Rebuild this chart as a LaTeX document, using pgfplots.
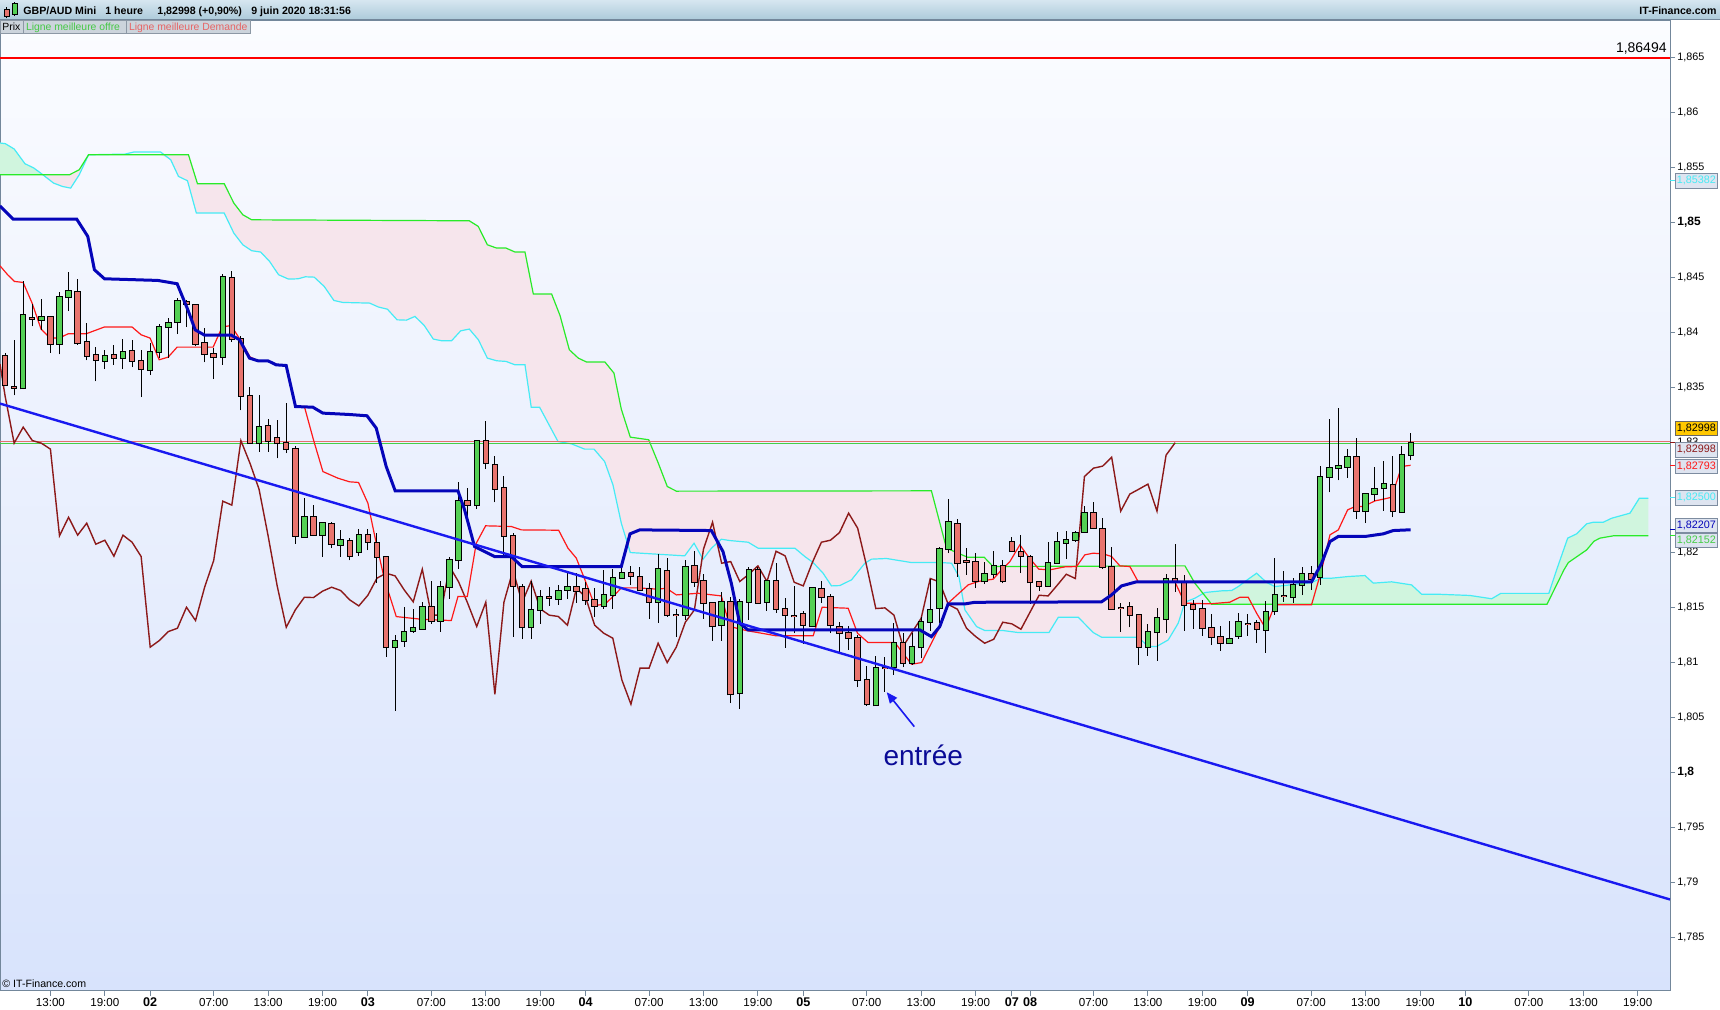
\documentclass[border=0pt]{standalone}
\usepackage{fontspec}
\setmainfont{Liberation Sans}
\usepackage{pgfplots}
\usepackage{pgfplotstable}
\pgfplotsset{compat=1.18}
\usetikzlibrary{arrows.meta}

\definecolor{upc}{RGB}{84,208,84}
\definecolor{dnc}{RGB}{232,116,110}
\definecolor{kij}{RGB}{5,5,185}
\definecolor{trd}{RGB}{25,25,240}
\definecolor{tnk}{RGB}{255,25,25}
\definecolor{chk}{RGB}{140,25,25}
\definecolor{sgr}{RGB}{40,235,40}
\definecolor{scy}{RGB}{70,235,245}
\definecolor{pinkf}{RGB}{246,229,236}
\definecolor{grnf}{RGB}{208,245,222}
\definecolor{bidc}{RGB}{230,110,110}
\definecolor{askc}{RGB}{70,205,70}
\definecolor{bgtop}{RGB}{251,252,255}
\definecolor{bgbot}{RGB}{216,227,252}
\definecolor{axc}{RGB}{115,135,155}
\definecolor{hdt}{RGB}{214,230,240}
\definecolor{hdb}{RGB}{172,202,218}
\definecolor{tabf}{RGB}{204,212,220}
\definecolor{tabb}{RGB}{140,152,165}
\definecolor{ltg}{RGB}{70,200,70}
\definecolor{ltr}{RGB}{230,100,100}
\definecolor{entc}{RGB}{10,10,150}
\definecolor{boxf}{RGB}{222,228,240}
\definecolor{boxb}{RGB}{125,140,160}
\definecolor{gold}{RGB}{255,200,0}

\newcommand\fs[1]{\fontsize{#1}{#1}\selectfont}

\pgfplotsset{
  candle/.style={draw=none, mark=none, forget plot,
    error bars/.cd, y dir=plus, y explicit, error mark=none},
}
\tikzset{tag/.style={anchor=west, draw=boxb, fill=boxf, font=\fs{5.4}, inner sep=0pt,
  minimum width=21pt, minimum height=7.2pt, line width=0.4pt}}

% hourly GBP/AUD candles: index, open, high, low, close, up(1)/down(0)
\pgfplotstableread{
i o h l c d
8 1.83782 1.83812 1.83515 1.83521 0
9 1.83500 1.83934 1.83428 1.83500 0
10 1.83491 1.84464 1.83485 1.84158 1
11 1.84125 1.84261 1.84055 1.84125 0
12 1.84112 1.84306 1.84024 1.84140 1
13 1.84140 1.84140 1.83818 1.83894 0
14 1.83894 1.84370 1.83800 1.84321 1
15 1.84321 1.84552 1.84194 1.84376 1
16 1.84367 1.84485 1.83888 1.83903 0
17 1.83912 1.84085 1.83746 1.83785 0
18 1.83794 1.83867 1.83555 1.83749 0
19 1.83743 1.83837 1.83667 1.83785 1
20 1.83794 1.83885 1.83709 1.83767 0
21 1.83767 1.83943 1.83667 1.83822 1
22 1.83831 1.83934 1.83685 1.83740 0
23 1.83740 1.83837 1.83412 1.83667 0
24 1.83658 1.83903 1.83612 1.83822 1
25 1.83822 1.84079 1.83767 1.84049 1
26 1.84049 1.84134 1.83770 1.84085 1
27 1.84094 1.84312 1.83985 1.84285 1
28 1.84279 1.84291 1.84049 1.84261 0
29 1.84249 1.84261 1.83873 1.83894 0
30 1.83903 1.84040 1.83728 1.83803 0
31 1.83803 1.83858 1.83576 1.83776 0
32 1.83776 1.84534 1.83709 1.84503 1
33 1.84494 1.84561 1.83918 1.83940 0
34 1.83940 1.83970 1.83291 1.83424 0
35 1.83424 1.83509 1.82994 1.82994 0
36 1.82994 1.83434 1.82918 1.83140 1
37 1.83146 1.83215 1.82918 1.83018 0
38 1.83040 1.83206 1.82855 1.82994 0
39 1.82994 1.83358 1.82903 1.82940 0
40 1.82940 1.82964 1.82079 1.82152 0
41 1.82140 1.82497 1.82140 1.82321 1
42 1.82321 1.82431 1.82158 1.82158 0
43 1.82158 1.82267 1.81964 1.82267 1
44 1.82258 1.82279 1.82040 1.82076 0
45 1.82067 1.82206 1.81964 1.82112 1
46 1.82103 1.82131 1.81928 1.81967 0
47 1.82006 1.82212 1.81967 1.82158 1
48 1.82158 1.82212 1.82021 1.82094 0
49 1.82085 1.82182 1.81724 1.81964 0
50 1.81958 1.81964 1.81055 1.81140 0
51 1.81140 1.81252 1.80564 1.81200 1
52 1.81200 1.81503 1.81146 1.81282 1
53 1.81291 1.81485 1.81273 1.81312 1
54 1.81309 1.81552 1.81297 1.81503 1
55 1.81503 1.81746 1.81352 1.81382 0
56 1.81382 1.81746 1.81282 1.81685 1
57 1.81685 1.81964 1.81582 1.81928 1
58 1.81928 1.82643 1.81855 1.82467 1
59 1.82467 1.82588 1.82334 1.82431 0
60 1.82431 1.83018 1.82394 1.83018 1
61 1.83018 1.83194 1.82758 1.82812 0
62 1.82800 1.82879 1.82455 1.82576 0
63 1.82585 1.82697 1.81970 1.82152 0
64 1.82152 1.82182 1.81237 1.81697 0
65 1.81685 1.81715 1.81218 1.81321 0
66 1.81321 1.81746 1.81218 1.81479 1
67 1.81479 1.81661 1.81352 1.81594 1
68 1.81591 1.81685 1.81515 1.81591 0
69 1.81576 1.81706 1.81524 1.81649 1
70 1.81661 1.81812 1.81582 1.81685 1
71 1.81685 1.81812 1.81546 1.81655 0
72 1.81667 1.81734 1.81524 1.81570 0
73 1.81570 1.81676 1.81418 1.81515 0
74 1.81515 1.81843 1.81491 1.81612 1
75 1.81612 1.81849 1.81491 1.81767 1
76 1.81767 1.81888 1.81758 1.81812 1
77 1.81812 1.81879 1.81703 1.81788 0
78 1.81776 1.81873 1.81649 1.81661 0
79 1.81667 1.81722 1.81394 1.81552 0
80 1.81552 1.81988 1.81364 1.81849 1
81 1.81834 1.81949 1.81418 1.81431 0
82 1.81431 1.81485 1.81237 1.81431 0
83 1.81431 1.81934 1.81388 1.81873 1
84 1.81882 1.82010 1.81691 1.81734 0
85 1.81740 1.81806 1.81400 1.81540 0
86 1.81540 1.81555 1.81200 1.81328 0
87 1.81340 1.81637 1.81200 1.81549 1
88 1.81549 1.81594 1.80631 1.80712 0
89 1.80721 1.81579 1.80576 1.81549 1
90 1.81555 1.81873 1.81388 1.81840 1
91 1.81840 1.81873 1.81534 1.81546 0
92 1.81549 1.81752 1.81473 1.81740 1
93 1.81740 1.81903 1.81455 1.81488 0
94 1.81485 1.81585 1.81137 1.81431 0
95 1.81419 1.81697 1.81267 1.81419 0
96 1.81440 1.81470 1.81170 1.81340 0
97 1.81328 1.81685 1.81322 1.81676 1
98 1.81667 1.81740 1.81540 1.81594 0
99 1.81594 1.81625 1.81267 1.81340 0
100 1.81322 1.81370 1.81085 1.81267 0
101 1.81267 1.81334 1.81115 1.81222 0
102 1.81222 1.81252 1.80776 1.80843 0
103 1.80843 1.80970 1.80606 1.80622 0
104 1.80612 1.81061 1.80612 1.80949 1
105 1.80949 1.81049 1.80737 1.80949 0
106 1.80958 1.81358 1.80888 1.81176 1
107 1.81176 1.81267 1.80958 1.81000 0
108 1.81000 1.81267 1.80979 1.81140 1
109 1.81140 1.81412 1.81040 1.81367 1
110 1.81373 1.81758 1.81291 1.81479 1
111 1.81494 1.82055 1.81358 1.82031 1
112 1.82031 1.82491 1.81994 1.82276 1
113 1.82258 1.82309 1.81782 1.81903 0
114 1.81918 1.82040 1.81797 1.81918 0
115 1.81918 1.81994 1.81676 1.81737 0
116 1.81737 1.81918 1.81712 1.81803 1
117 1.81803 1.82015 1.81767 1.81879 1
118 1.81882 1.81934 1.81721 1.81737 0
119 1.82094 1.82140 1.82012 1.82012 0
120 1.82009 1.82158 1.81812 1.81970 0
121 1.81964 1.81979 1.81534 1.81730 0
122 1.81730 1.81730 1.81655 1.81697 0
123 1.81697 1.82097 1.81697 1.81909 1
124 1.81909 1.82188 1.81903 1.82094 1
125 1.82085 1.82197 1.81940 1.82112 1
126 1.82115 1.82194 1.82094 1.82182 1
127 1.82185 1.82425 1.82176 1.82358 1
128 1.82358 1.82461 1.82212 1.82221 0
129 1.82212 1.82315 1.81849 1.81873 0
130 1.81867 1.82055 1.81491 1.81491 0
131 1.81497 1.81540 1.81282 1.81497 0
132 1.81503 1.81552 1.81321 1.81431 0
133 1.81431 1.81431 1.80982 1.81146 0
134 1.81146 1.81352 1.81061 1.81276 1
135 1.81276 1.81494 1.81018 1.81403 1
136 1.81394 1.81806 1.81267 1.81764 1
137 1.81758 1.82079 1.81646 1.81734 0
138 1.81734 1.81797 1.81291 1.81527 0
139 1.81527 1.81570 1.81309 1.81485 0
140 1.81485 1.81570 1.81243 1.81312 0
141 1.81312 1.81443 1.81158 1.81237 0
142 1.81237 1.81333 1.81109 1.81176 0
143 1.81176 1.81382 1.81176 1.81212 1
144 1.81246 1.81449 1.81218 1.81367 1
145 1.81352 1.81440 1.81246 1.81352 0
146 1.81364 1.81388 1.81176 1.81303 0
147 1.81297 1.81564 1.81091 1.81458 1
148 1.81467 1.81949 1.81434 1.81612 1
149 1.81606 1.81834 1.81555 1.81606 0
150 1.81594 1.81770 1.81546 1.81703 1
151 1.81703 1.81873 1.81612 1.81803 1
152 1.81806 1.81879 1.81661 1.81764 0
153 1.81776 1.82788 1.81706 1.82691 1
154 1.82691 1.83212 1.82546 1.82767 1
155 1.82767 1.83312 1.82655 1.82785 1
156 1.82782 1.82940 1.82682 1.82867 1
157 1.82867 1.83040 1.82309 1.82376 0
158 1.82376 1.82531 1.82267 1.82531 1
159 1.82531 1.82776 1.82473 1.82576 1
160 1.82585 1.82834 1.82382 1.82622 1
161 1.82612 1.82879 1.82321 1.82376 0
162 1.82367 1.82970 1.82367 1.82885 1
163 1.82885 1.83091 1.82837 1.82998 1
}\candles

\begin{document}
\begin{tikzpicture}
\fill[white] (0,0) rectangle (860pt,505pt);
\path[use as bounding box] (0,0) rectangle (860pt,505pt);
\shade[top color=bgtop, bottom color=bgbot] (0pt,9.65pt) rectangle (835pt,494.65pt);
\begin{axis}[
  at={(0pt,9.65pt)}, anchor=south west,
  scale only axis, width=835pt, height=485pt,
  xmin=7.44, xmax=191.56, ymin=1.780182, ymax=1.868336,
  axis line style={draw=axc, line width=0.5pt},
  xtick pos=left, ytick pos=right, yticklabel pos=right,
  tick align=outside, major tick length=2.5pt,
  tick style={draw=axc, line width=0.5pt},
  scaled y ticks=false,
  xtick={13,19,24,31,37,43,48,55,61,67,72,79,85,91,96,103,109,115,119,121,128,134,140,145,152,158,164,169,176,182,188},
  xticklabels={13:00,19:00,{\fs{6.3}\bfseries 02},07:00,13:00,19:00,{\fs{6.3}\bfseries 03},07:00,13:00,19:00,{\fs{6.3}\bfseries 04},07:00,13:00,19:00,{\fs{6.3}\bfseries 05},07:00,13:00,19:00,{\fs{6.3}\bfseries 07},{\fs{6.3}\bfseries 08},07:00,13:00,19:00,{\fs{6.3}\bfseries 09},07:00,13:00,19:00,{\fs{6.3}\bfseries 10},07:00,13:00,19:00},
  xticklabel style={font=\fs{5.8}, inner ysep=1pt},
  ytick={1.785,1.79,1.795,1.8,1.805,1.81,1.815,1.82,1.825,1.83,1.835,1.84,1.845,1.85,1.855,1.86,1.865},
  yticklabels={{1,785},{1,79},{1,795},{\fs{6}\bfseries 1,8},{1,805},{1,81},{1,815},{1,82},{},{1,83},{1,835},{1,84},{1,845},{\fs{6}\bfseries 1,85},{1,855},{1,86},{1,865}},
  yticklabel style={font=\fs{5.4}, inner xsep=1pt},
]

% cloud areas (green span above cyan span: pink; cyan above green: light green)
\addplot[fill=pinkf, draw=none, forget plot] coordinates {
(12.2,1.85434)(15.11,1.85434)(16.18,1.85479)(17.20,1.85615)(28.22,1.85615)(29.21,1.85352)(32.16,1.85352)(33.22,1.85176)(34.21,1.85070)(35.19,1.85024)(59.18,1.85015)(60.17,1.84964)(61.17,1.84797)(62.20,1.84767)(63.23,1.84767)(64.22,1.84731)(65.32,1.84731)(66.24,1.84349)(68.26,1.84349)(69.18,1.84155)(70.21,1.83843)(71.20,1.83767)(72.12,1.83731)(74.14,1.83731)(75.13,1.83631)(75.94,1.83303)(76.93,1.83049)(78.96,1.83025)(79.99,1.82818)(81.01,1.82600)(82.01,1.82558)(110.13,1.82561)(111.79,1.82040)(114.10,1.81958)(115.94,1.81958)(116.93,1.81873)(138.08,1.81879)(139.18,1.81721)(140,1.81630)
(139.18,1.81585)(138.08,1.81549)(137.34,1.81358)(136.24,1.81206)(134.95,1.81146)(134.03,1.81146)(132.93,1.81231)(128.88,1.81231)(127.97,1.81273)(126.32,1.81412)(124.12,1.81412)(123.09,1.81273)(119.71,1.81273)(118.05,1.81291)(116.03,1.81291)(115.11,1.81327)(113.82,1.81479)(113.16,1.81782)(112.35,1.81903)(111.25,1.81909)(107.94,1.81909)(105.18,1.81946)(103.53,1.81940)(102.79,1.81903)(101.32,1.81752)(100.03,1.81700)(99.11,1.81697)(98.19,1.81812)(97.09,1.81909)(96.17,1.81964)(95.07,1.82040)(91.02,1.82040)(89.92,1.82094)(87.90,1.82109)(86.97,1.82121)(85.87,1.82039)(84.95,1.81939)(83.96,1.82085)(82.93,1.81970)(76.93,1.82000)(75.94,1.82267)(75.02,1.82615)(74.10,1.82827)(72.93,1.82940)(71.90,1.82940)(70.43,1.82988)(68.96,1.83009)(66.93,1.83321)(66.01,1.83321)(65.32,1.83706)(64.22,1.83706)(63.23,1.83737)(62.20,1.83743)(61.17,1.83767)(60.18,1.83934)(59.18,1.84031)(58.23,1.84015)(57.23,1.83925)(56.13,1.83925)(55.21,1.83940)(54.21,1.84064)(53.19,1.84146)(52.24,1.84112)(51.22,1.84115)(50.15,1.84212)(49.17,1.84231)(48.19,1.84267)(45.23,1.84273)(44.25,1.84291)(43.19,1.84418)(42.08,1.84503)(41.10,1.84506)(40.31,1.84488)(39.25,1.84485)(38.15,1.84525)(37.16,1.84646)(36.18,1.84731)(35.19,1.84743)(34.21,1.84797)(33.22,1.84903)(32.16,1.85085)(29.09,1.85085)(28.11,1.85379)(27.12,1.85418)(26.26,1.85570)(25.15,1.85615)(17.20,1.85615)(16.18,1.85434)(15.23,1.85312)(14.33,1.85327)(13.34,1.85358)(12.2,1.85434)
} -- cycle;
\addplot[fill=grnf, draw=none, forget plot] coordinates {
(7.44,1.85722)(8.03,1.85716)(9.01,1.85667)(10.19,1.85534)(11.18,1.85494)(12.2,1.85434)(7.44,1.85434)
} -- cycle;
\addplot[fill=grnf, draw=none, forget plot] coordinates {
(140,1.81630)(140.28,1.81637)(142.12,1.81652)(143.23,1.81655)(143.96,1.81691)(145.06,1.81758)(145.98,1.81812)(147.09,1.81728)(148.00,1.81691)(152.04,1.81728)(153.15,1.81767)(154.25,1.81767)(156.09,1.81782)(157.93,1.81791)(158.85,1.81722)(160.87,1.81734)(163.07,1.81706)(164.18,1.81621)(166.02,1.81621)(169.5,1.81610)(171.9,1.81580)(172.9,1.81629)(178.2,1.81629)(179.06,1.81843)(180.28,1.82131)(181.27,1.82170)(182.37,1.82261)(183.11,1.82276)(184.21,1.82276)(185.13,1.82312)(187.15,1.82358)(188.18,1.82494)(189.17,1.82494)
(189.17,1.82152)(185.31,1.82152)(183.84,1.82131)(183.18,1.82103)(182.37,1.82024)(180.35,1.81909)(179.87,1.81843)(178.0,1.81530)(141.02,1.81530)
} -- cycle;

% cloud lines
\addplot[draw=scy, line width=0.6pt] coordinates {
(7.44,1.85722)(8.03,1.85716)(9.01,1.85667)(10.19,1.85534)(11.18,1.85494)(12.16,1.85434)(13.34,1.85358)(14.33,1.85327)(15.23,1.85312)(16.18,1.85434)(17.20,1.85615)(21.22,1.85621)(22.20,1.85640)(25.15,1.85640)(26.26,1.85570)(27.12,1.85418)(28.11,1.85379)(29.09,1.85085)(32.16,1.85085)(33.22,1.84903)(34.21,1.84797)(35.19,1.84743)(36.18,1.84731)(37.16,1.84646)(38.15,1.84525)(39.25,1.84485)(40.31,1.84488)(41.10,1.84506)(42.08,1.84503)(43.19,1.84418)(44.25,1.84291)(45.23,1.84273)(48.19,1.84267)(49.17,1.84231)(50.15,1.84212)(51.22,1.84115)(52.24,1.84112)(53.19,1.84146)(54.21,1.84064)(55.21,1.83940)(56.13,1.83925)(57.23,1.83925)(58.23,1.84015)(59.18,1.84031)(60.18,1.83934)(61.17,1.83767)(62.20,1.83743)(63.23,1.83737)(64.22,1.83706)(65.32,1.83706)(66.01,1.83321)(66.93,1.83321)(68.96,1.83009)(70.43,1.82988)(71.90,1.82940)(72.93,1.82940)(74.10,1.82827)(75.02,1.82615)(75.94,1.82267)(76.93,1.82000)(82.93,1.81970)(83.96,1.82085)(84.95,1.81939)(85.87,1.82039)(86.97,1.82121)(87.90,1.82109)(89.92,1.82094)(91.02,1.82040)(95.07,1.82040)(96.17,1.81964)(97.09,1.81909)(98.19,1.81812)(99.11,1.81697)(100.03,1.81700)(101.32,1.81752)(102.79,1.81903)(103.53,1.81940)(105.18,1.81946)(107.94,1.81909)(111.25,1.81909)(112.35,1.81903)(113.16,1.81782)(113.82,1.81479)(115.11,1.81327)(116.03,1.81291)(118.05,1.81291)(119.71,1.81273)(123.09,1.81273)(124.12,1.81412)(126.32,1.81412)(127.97,1.81273)(128.88,1.81231)(132.93,1.81231)(134.03,1.81146)(134.95,1.81146)(136.24,1.81206)(137.34,1.81358)(138.08,1.81549)(139.18,1.81585)(140.28,1.81637)(142.12,1.81652)(143.23,1.81655)(143.96,1.81691)(145.06,1.81758)(145.98,1.81812)(147.09,1.81728)(148.00,1.81691)(152.04,1.81728)(153.15,1.81767)(154.25,1.81767)(156.09,1.81782)(157.93,1.81791)(158.85,1.81722)(160.87,1.81734)(163.07,1.81706)(164.18,1.81621)(166.02,1.81621)(169.5,1.81610)(171.9,1.81580)(172.9,1.81629)(178.2,1.81629)(179.06,1.81843)(180.28,1.82131)(181.27,1.82170)(182.37,1.82261)(183.11,1.82276)(184.21,1.82276)(185.13,1.82312)(187.15,1.82358)(188.18,1.82494)(189.17,1.82494)
};
\addplot[draw=sgr, line width=0.6pt] coordinates {
(7.44,1.85434)(15.11,1.85434)(16.18,1.85479)(17.20,1.85615)(28.22,1.85615)(29.21,1.85352)(32.16,1.85352)(33.22,1.85176)(34.21,1.85070)(35.19,1.85024)(59.18,1.85015)(60.17,1.84964)(61.17,1.84797)(62.20,1.84767)(63.23,1.84767)(64.22,1.84731)(65.32,1.84731)(66.24,1.84349)(68.26,1.84349)(69.18,1.84155)(70.21,1.83843)(71.20,1.83767)(72.12,1.83731)(74.14,1.83731)(75.13,1.83631)(75.94,1.83303)(76.93,1.83049)(78.96,1.83025)(79.99,1.82818)(81.01,1.82600)(82.01,1.82558)(110.13,1.82561)(111.79,1.82040)(114.10,1.81958)(115.94,1.81958)(116.93,1.81873)(138.08,1.81879)(139.18,1.81721)(141.02,1.81530)(178.0,1.81530)(179.87,1.81843)(180.35,1.81909)(182.37,1.82024)(183.18,1.82103)(183.84,1.82131)(185.31,1.82152)(189.17,1.82152)
};

% best bid / best ask
\addplot[bidc, line width=0.5pt] coordinates {(7.44,1.83006)(191.56,1.83006)};
\addplot[askc, line width=0.5pt] coordinates {(7.44,1.82988)(191.56,1.82988)};

% lagging line
\addplot[chk, line width=0.7pt] coordinates {
(7.44,1.83713)(8,1.83424)(9,1.82994)(10,1.83140)(11,1.83018)(12,1.82994)(13,1.82940)(14,1.82152)(15,1.82321)(16,1.82158)(17,1.82267)(18,1.82076)(19,1.82112)(20,1.81967)(21,1.82158)(22,1.82094)(23,1.81964)(24,1.81140)(25,1.81200)(26,1.81282)(27,1.81312)(28,1.81503)(29,1.81382)(30,1.81685)(31,1.81928)(32,1.82467)(33,1.82431)(34,1.83018)(35,1.82812)(36,1.82576)(37,1.82152)(38,1.81697)(39,1.81321)(40,1.81479)(41,1.81594)(42,1.81591)(43,1.81649)(44,1.81685)(45,1.81655)(46,1.81570)(47,1.81515)(48,1.81612)(49,1.81767)(50,1.81812)(51,1.81788)(52,1.81661)(53,1.81552)(54,1.81849)(55,1.81431)(56,1.81431)(57,1.81873)(58,1.81734)(59,1.81540)(60,1.81328)(61,1.81549)(62,1.80712)(63,1.81549)(64,1.81840)(65,1.81546)(66,1.81740)(67,1.81488)(68,1.81431)(69,1.81419)(70,1.81340)(71,1.81676)(72,1.81594)(73,1.81340)(74,1.81267)(75,1.81222)(76,1.80843)(77,1.80622)(78,1.80949)(79,1.80949)(80,1.81176)(81,1.81000)(82,1.81140)(83,1.81367)(84,1.81479)(85,1.82031)(86,1.82276)(87,1.81903)(88,1.81918)(89,1.81737)(90,1.81803)(91,1.81879)(92,1.81737)(93,1.82012)(94,1.81970)(95,1.81730)(96,1.81697)(97,1.81909)(98,1.82094)(99,1.82112)(100,1.82182)(101,1.82358)(102,1.82221)(103,1.81873)(104,1.81491)(105,1.81497)(106,1.81431)(107,1.81146)(108,1.81276)(109,1.81403)(110,1.81764)(111,1.81734)(112,1.81527)(113,1.81485)(114,1.81312)(115,1.81237)(116,1.81176)(117,1.81212)(118,1.81367)(119,1.81352)(120,1.81303)(121,1.81458)(122,1.81612)(123,1.81606)(124,1.81703)(125,1.81803)(126,1.81764)(127,1.82691)(128,1.82767)(129,1.82785)(130,1.82867)(131,1.82376)(132,1.82531)(133,1.82576)(134,1.82622)(135,1.82376)(136,1.82885)(137,1.82998)
};

% conversion line
\addplot[tnk, line width=0.6pt] coordinates {
(7.44,1.84606)(8.29,1.84524)(9.03,1.84464)(9.99,1.84455)(10.98,1.84267)(11.97,1.84030)(12.96,1.83949)(13.96,1.83949)(14.95,1.83988)(16.93,1.83988)(18.92,1.84049)(22.01,1.84049)(23.00,1.83979)(23.99,1.83949)(24.99,1.83752)(25.98,1.83776)(26.97,1.83867)(30.94,1.83867)(31.93,1.84049)(32.93,1.84064)(33.92,1.83934)(35,1.83778)(36,1.83740)(37,1.83740)(38,1.83708)(39,1.83708)(40,1.83327)(41,1.83327)(42,1.83025)(43.04,1.82736)(44.69,1.82676)(45.97,1.82643)(46.97,1.82637)(48.00,1.82449)(48.92,1.82085)(49.84,1.81752)(51.13,1.81418)(53.88,1.81394)(57.19,1.81382)(57.93,1.81600)(58.96,1.81600)(59.95,1.82085)(60.98,1.82243)(63.81,1.82237)(64.92,1.82206)(69.03,1.82203)(70.06,1.82040)(70.98,1.81949)(71.90,1.81758)(73.00,1.81521)(74.10,1.81528)(75.21,1.81615)(75.94,1.81679)(77.78,1.81679)(79.99,1.81667)(80.91,1.81676)(82.01,1.81615)(84.40,1.81630)(86.97,1.81606)(87.90,1.81328)(89.73,1.81291)(93.04,1.81243)(97.09,1.81243)(98.08,1.81503)(100.95,1.81494)(101.98,1.81267)(103.15,1.81182)(106.10,1.81182)(107.93,1.80985)(109.04,1.81000)(110.87,1.81297)(111.97,1.81540)(114.18,1.81706)(115.29,1.81737)(116.94,1.81758)(117.86,1.81843)(118.78,1.81918)(119.88,1.82070)(120.80,1.81964)(121.97,1.81849)(123.19,1.81843)(124.85,1.81870)(126.13,1.81873)(127.04,1.81979)(127.96,1.81994)(129.07,1.81988)(129.99,1.81964)(130.91,1.81879)(132.01,1.81873)(132.93,1.81734)(136.97,1.81734)(138.08,1.81540)(140.83,1.81534)(143.04,1.81549)(144.14,1.81594)(145.06,1.81594)(145.98,1.81449)(146.97,1.81312)(148.00,1.81525)(152.04,1.81525)(153.15,1.81843)(154.07,1.82161)(154.99,1.82206)(156.02,1.82388)(156.83,1.82418)(157.75,1.82418)(159.04,1.82470)(159.95,1.82485)(160.87,1.82503)(161.97,1.82782)(162.96,1.82793)
};

% candles: wicks, outlines, bodies
\addplot[candle, error bar style={draw=black, line width=0.5pt}]
  table[x=i, y=l, y error plus expr=\thisrow{h}-\thisrow{l}] {\candles};
\addplot[candle, error bar style={draw=black, line width=3.2pt, shorten <=-0.5pt, shorten >=-0.5pt}]
  table[x=i, y expr={min(\thisrow{o},\thisrow{c})}, y error plus expr={max(abs(\thisrow{c}-\thisrow{o}),0.00003)}] {\candles};
\addplot[restrict expr to domain={\thisrow{d}}{0.5:1.5}, candle, error bar style={draw=upc, line width=2.2pt}]
  table[x=i, y expr={min(\thisrow{o},\thisrow{c})}, y error plus expr={max(abs(\thisrow{c}-\thisrow{o}),0.00003)}] {\candles};
\addplot[restrict expr to domain={\thisrow{d}}{-0.5:0.5}, candle, error bar style={draw=dnc, line width=2.2pt}]
  table[x=i, y expr={min(\thisrow{o},\thisrow{c})}, y error plus expr={max(abs(\thisrow{c}-\thisrow{o}),0.00003)}] {\candles};

% base line
\addplot[kij, line width=1.5pt] coordinates {
(7.44,1.85150)(8.9,1.85030)(15.9,1.85030)(17.12,1.84873)(17.85,1.84570)(18.96,1.84488)(24.84,1.84473)(26.97,1.84443)(28.15,1.84206)(28.96,1.84024)(29.99,1.83976)(32.93,1.83976)(33.85,1.83934)(34.95,1.83767)(35.87,1.83743)(36.97,1.83743)(37.89,1.83706)(38.99,1.83700)(40.02,1.83327)(41.93,1.83321)(43.04,1.83267)(45.9,1.83255)(47.9,1.83243)(48.92,1.83131)(50.02,1.82782)(51.01,1.82561)(57.93,1.82561)(58.66,1.82388)(59.76,1.82055)(61.97,1.81964)(63.81,1.81964)(64.99,1.81873)(75.94,1.81873)(76.90,1.82170)(77.97,1.82206)(85.87,1.82200)(87.15,1.82009)(88.07,1.81721)(88.99,1.81358)(89.91,1.81297)(108.85,1.81297)(110.13,1.81236)(111.05,1.81327)(111.97,1.81533)(113.81,1.81533)(114.91,1.81548)(128.88,1.81552)(129.99,1.81615)(131.09,1.81697)(132.74,1.81734)(152.04,1.81734)(153.15,1.81903)(154.07,1.82100)(154.99,1.82146)(157.93,1.82146)(159.95,1.82170)(161.05,1.82200)(162.96,1.82207)
};

% trend line
\addplot[trd, line width=1.2pt] coordinates {(7.44,1.83354)(191.56,1.78847)};

% level line
\addplot[red, line width=1pt] coordinates {(7.44,1.86494)(191.56,1.86494)};
\node[anchor=south east, font=\fs{7}, inner sep=0pt] at ([xshift=-1.5pt, yshift=1.5pt]axis cs:191.56,1.86494) {1,86494};

% annotation
\draw[trd, line width=0.8pt, -{Triangle[length=5.5pt,width=4.5pt]}] (axis cs:108.24,1.80418) -- (axis cs:105.2,1.80731);
\node[text=entc, font=\fs{14}] at (axis cs:109.23,1.80161) {entrée};

% anchor points for the price tags
\coordinate (v1) at (axis cs:191.56,1.85382);
\coordinate (b1) at (axis cs:191.56,1.85379);
\coordinate (b2) at (axis cs:191.56,1.83131);
\coordinate (v3) at (axis cs:191.56,1.82998);
\coordinate (b3) at (axis cs:191.56,1.82934);
\coordinate (v4) at (axis cs:191.56,1.82793);
\coordinate (b4) at (axis cs:191.56,1.82785);
\coordinate (v5) at (axis cs:191.56,1.82500);
\coordinate (b5) at (axis cs:191.56,1.82497);
\coordinate (v6) at (axis cs:191.56,1.82207);
\coordinate (b6) at (axis cs:191.56,1.82245);
\coordinate (v7) at (axis cs:191.56,1.82152);
\coordinate (b7) at (axis cs:191.56,1.82113);
\end{axis}

\node[anchor=south west, font=\fs{5.3}, inner sep=0pt] at (1pt,11pt) {© IT-Finance.com};

% price tags
\draw[scy, line width=0.5pt] (v1) -- ++(2.5pt,0);
\node[tag, text=scy] at ([xshift=2.5pt]b1) {1,85382};
\node[tag, draw=black!60, fill=gold, text=black] at ([xshift=2.5pt]b2) {1,82998};
\draw[chk, line width=0.5pt] (v3) -- ++(2.5pt,0);
\node[tag, text=chk] at ([xshift=2.5pt]b3) {1,82998};
\draw[tnk, line width=0.5pt] (v4) -- ++(2.5pt,0);
\node[tag, text=tnk] at ([xshift=2.5pt]b4) {1,82793};
\draw[scy, line width=0.5pt] (v5) -- ++(2.5pt,0);
\node[tag, text=scy] at ([xshift=2.5pt]b5) {1,82500};
\draw[kij, line width=0.5pt] (v6) -- ++(2.5pt,0);
\node[tag, text=kij] at ([xshift=2.5pt]b6) {1,82207};
\draw[sgr, line width=0.5pt] (v7) -- ++(2.5pt,0);
\node[tag, text=askc] at ([xshift=2.5pt]b7) {1,82152};

% header bar
\shade[top color=hdt, bottom color=hdb] (0,495pt) rectangle (860pt,505pt);
\draw[axc, line width=0.5pt] (0,495pt) -- (860pt,495pt);
\draw[black, line width=0.25pt] (3.25pt,495.8pt) -- (3.25pt,501.5pt);
\draw[black, fill=dnc, line width=0.3pt] (2.1pt,496.8pt) rectangle (4.4pt,500.3pt);
\draw[black, line width=0.25pt] (7.25pt,497pt) -- (7.25pt,504pt);
\draw[black, fill=upc, line width=0.3pt] (6.1pt,498pt) rectangle (8.4pt,503.2pt);
\node[anchor=base west, inner sep=0pt, font=\fs{5.3}\bfseries] at (11.5pt,497.5pt) {GBP/AUD Mini};
\node[anchor=base west, inner sep=0pt, font=\fs{5.3}\bfseries] at (52.5pt,497.5pt) {1 heure};
\node[anchor=base west, inner sep=0pt, font=\fs{5.3}\bfseries] at (78.5pt,497.5pt) {1,82998 (+0,90\%)};
\node[anchor=base west, inner sep=0pt, font=\fs{5.3}\bfseries] at (125.5pt,497.5pt) {9 juin 2020 18:31:56};
\node[anchor=base east, inner sep=0pt, font=\fs{5.3}\bfseries] at (858.5pt,497.5pt) {IT-Finance.com};

% legend tabs
\draw[tabb, fill=tabf, line width=0.4pt] (0,488.5pt) rectangle (11.5pt,494.75pt);
\draw[tabb, fill=tabf, line width=0.4pt] (11.5pt,488.5pt) rectangle (63pt,494.75pt);
\draw[tabb, fill=tabf, line width=0.4pt] (63pt,488.5pt) rectangle (125pt,494.75pt);
\node[anchor=base west, inner sep=0pt, font=\fs{5.2}] at (1pt,489.6pt) {Prix};
\node[anchor=base west, inner sep=0pt, font=\fs{5.2}, text=ltg] at (12.8pt,489.6pt) {Ligne meilleure offre};
\node[anchor=base west, inner sep=0pt, font=\fs{5.2}, text=ltr] at (64.3pt,489.6pt) {Ligne meilleure Demande};
\end{tikzpicture}
\end{document}
